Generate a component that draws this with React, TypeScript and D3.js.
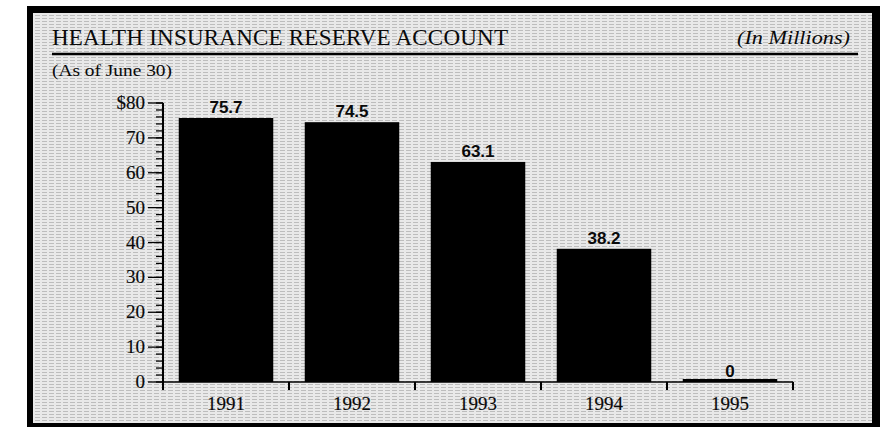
import React from "react";
import * as d3 from "d3";

const years = ["1991", "1992", "1993", "1994", "1995"];
const values = [75.7, 74.5, 63.1, 38.2, 0];
const valueLabels = ["75.7", "74.5", "63.1", "38.2", "0"];
const yTicks = [0, 10, 20, 30, 40, 50, 60, 70, 80];
const yMinorTicks = d3.range(0, 81, 2);
const title = "HEALTH INSURANCE RESERVE ACCOUNT";
const unitNote = "(In Millions)";
const subtitle = "(As of June 30)";

const W = 887;
const H = 427;
const SERIF = "'Liberation Serif', 'DejaVu Serif', serif";
const SANS = "'Liberation Sans', 'DejaVu Sans', sans-serif";

export default function App() {
  const x = d3.scaleBand<string>().domain(years).range([163, 793]).paddingInner(0.25).paddingOuter(0.125);
  const y = d3.scaleLinear().domain([0, 80]).range([382, 103]);
  const step = x.step();
  const x0 = 163;
  const y0 = y(0);
  const boundaries = d3.range(1, years.length + 1).map((i) => x0 + i * step);
  const txt = { fill: "#0a0a0a", stroke: "#0a0a0a", strokeWidth: 0.15 };

  return (
    <svg width={W} height={H} style={{ position: "absolute", left: 0, top: 0, background: "#fff" }}>
      <defs>
        <pattern id="tex" width="7" height="3" patternUnits="userSpaceOnUse">
          <rect width="7" height="3" fill="#e9e9e9" />
          <rect x="0" y="0" width="5" height="1" fill="#bdbdbd" />
        </pattern>
      </defs>
      {/* frame */}
      <rect x={27} y={6} width={853} height={421} fill="#000" />
      <rect x={33} y={13} width={839} height={410} fill="url(#tex)" />

      {/* titles */}
      <text x={52} y={45} fontFamily={SERIF} fontSize={23} textLength={456} lengthAdjust="spacing" fill="#0a0a0a">
        {title}
      </text>
      <text x={737} y={44} textLength={113} lengthAdjust="spacingAndGlyphs" fontFamily={SERIF} fontStyle="italic" fontSize={18} fill="#0a0a0a">
        {unitNote}
      </text>
      <line x1={52} x2={858} y1={54} y2={54} stroke="#000" strokeWidth={2.5} />
      <text x={52} y={76} textLength={120} lengthAdjust="spacingAndGlyphs" fontFamily={SERIF} fontSize={17} fill="#0a0a0a">
        {subtitle}
      </text>

      {/* y axis */}
      <line x1={x0} x2={x0} y1={y(80)} y2={y0 + 8} stroke="#000" strokeWidth={2} />
      {yMinorTicks.map((t) => (
        <line key={"m" + t} x1={x0 - 7} x2={x0} y1={y(t)} y2={y(t)} stroke="#000" strokeWidth={1.3} />
      ))}
      {yTicks.map((t) => (
        <g key={"t" + t}>
          <line x1={x0 - 15} x2={x0} y1={y(t)} y2={y(t)} stroke="#000" strokeWidth={1.3} />
          <text x={x0 - 18} y={y(t) + 6} textAnchor="end" fontFamily={SERIF} fontSize={19} {...txt}>
            {t === 80 ? "$" + t : String(t)}
          </text>
        </g>
      ))}

      {/* x axis */}
      <line x1={x0} x2={x0 + step * years.length} y1={y0} y2={y0} stroke="#000" strokeWidth={1.5} />
      {boundaries.map((b, i) => (
        <line key={"b" + i} x1={b} x2={b} y1={y0} y2={y0 + 8} stroke="#000" strokeWidth={2} />
      ))}
      {years.map((yr) => (
        <text key={"l" + yr} x={(x(yr) as number) + x.bandwidth() / 2} y={410} textAnchor="middle" fontFamily={SERIF} fontSize={19} {...txt}>
          {yr}
        </text>
      ))}

      {/* bars */}
      {years.map((yr, i) => {
        const v = values[i];
        const top = y(v);
        const h = Math.max(y0 - top, 3);
        return (
          <g key={"bar" + yr}>
            <rect x={x(yr)} y={y0 - h} width={x.bandwidth()} height={h} fill="#000" />
            <text x={(x(yr) as number) + x.bandwidth() / 2} y={top - 5} textAnchor="middle" fontFamily={SANS} fontWeight="bold" fontSize={17} fill="#0a0a0a">
              {valueLabels[i]}
            </text>
          </g>
        );
      })}
    </svg>
  );
}
